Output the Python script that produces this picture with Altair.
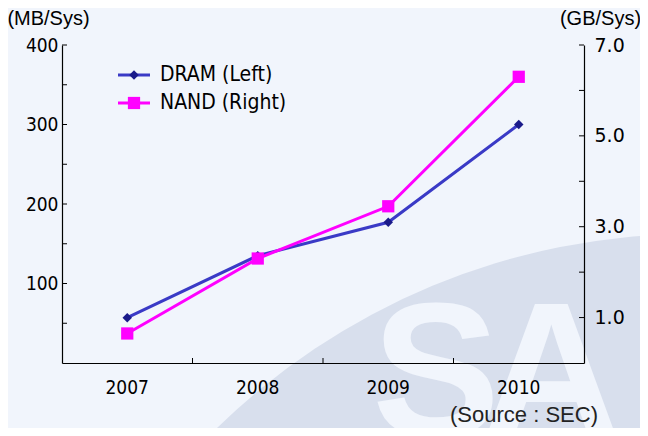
import altair as alt
import pandas as pd

years = ["2007", "2008", "2009", "2010"]
dram_mb = [57, 135, 177, 300]
nand_gb = [0.65, 2.3, 3.45, 6.3]
left_tick_vals = [50, 100, 150, 200, 250, 300, 350, 400]
left_label_vals = [100, 200, 300, 400]
right_tick_vals = [1, 2, 3, 4, 5, 6, 7]
right_label_vals = [1, 3, 5, 7]
x_tick_years = ["2008", "2009", "2010"]
series_names = ["DRAM (Left)", "NAND (Right)"]

W, H = 522, 318
NARROW = "DejaVu Sans Condensed, DejaVu Sans, sans-serif"
SANS = "Liberation Sans, Arial, sans-serif"
BG = "#F1F5FC"
WM = "#D8DFED"
DRAM_LINE = "#3A3AC6"
DRAM_MARK = "#1A1A8A"
NAND_COL = "#FF00FF"

df = pd.DataFrame({"year": years, "dram": dram_mb, "nand": nand_gb})
lt = pd.DataFrame({"v": left_tick_vals})
rt = pd.DataFrame({"v": right_tick_vals})
xt = pd.DataFrame({"year": x_tick_years})

xscale = alt.Scale(type="band", domain=years, paddingInner=0, paddingOuter=0)
yl = alt.Scale(domain=[0, 400], nice=False, zero=True)
yr = alt.Scale(domain=[0, 7], nice=False, zero=True)

xaxis = alt.Axis(title=None, ticks=False, domainColor="black", domainWidth=1.2, zindex=1,
                 labelFont=NARROW, labelFontSize=19, labelColor="black",
                 labelPadding=15, labelAngle=0)
left_axis = alt.Axis(title="(MB/Sys)", values=left_label_vals, ticks=False, grid=False,
                     domainColor="black", domainWidth=1.2, zindex=1,
                     labelFont=NARROW, labelFontSize=19, labelColor="black", labelPadding=4,
                     titleAngle=0, titleX=-14, titleY=-21, titleAlign="center",
                     titleBaseline="alphabetic", titleFont=SANS, titleFontSize=20,
                     titleFontWeight="normal", titleColor="black")
right_axis = alt.Axis(title="(GB/Sys)", orient="right", values=right_label_vals, format=".1f",
                      ticks=False, grid=False, domainColor="black", domainWidth=1.2, zindex=1,
                      labelFont="DejaVu Sans, sans-serif", labelFontSize=19, labelColor="black",
                      labelPadding=10,
                      titleAngle=0, titleX=16, titleY=-21, titleAlign="center",
                      titleBaseline="alphabetic", titleFont=SANS, titleFontSize=20,
                      titleFontWeight="normal", titleColor="black")

X = alt.X("year:O", scale=xscale, axis=xaxis)

# faint logo watermark (decorative background)
wm_df = pd.DataFrame({"k": ["wm"]})
wm_ellipse = alt.Chart(wm_df).mark_arc(color=WM, theta=0, theta2=6.2832).encode(
    x=alt.value(631), y=alt.value(870), radius=alt.value(681))
wm_s = alt.Chart(wm_df).mark_text(text="S", font=SANS, fontSize=192, fontWeight="bold",
                                  align="left", baseline="alphabetic", color=BG).encode(
    x=alt.value(310), y=alt.value(391))
wm_a = alt.Chart(wm_df).mark_text(text="A", font=SANS, fontSize=192, fontWeight="bold",
                                  align="left", baseline="alphabetic", color=BG).encode(
    x=alt.value(420), y=alt.value(391))

dram_line = alt.Chart(df).mark_line(color=DRAM_LINE, strokeWidth=3).encode(
    x=X, y=alt.Y("dram:Q", scale=yl, axis=left_axis))
dram_pts = alt.Chart(df).mark_point(shape="diamond", filled=True, color=DRAM_MARK,
                                    size=90, opacity=1).encode(
    x=X, y=alt.Y("dram:Q", scale=yl, axis=left_axis))
left_ticks = alt.Chart(lt).mark_rule(color="black", strokeWidth=1).encode(
    y=alt.Y("v:Q", scale=yl, axis=left_axis), x=alt.value(0), x2=alt.value(5))
x_ticks = alt.Chart(xt).mark_rule(color="black", strokeWidth=1).encode(
    x=alt.X("year:O", scale=xscale, axis=xaxis, bandPosition=0),
    y=alt.value(H - 5), y2=alt.value(H))

nand_line = alt.Chart(df).mark_line(color=NAND_COL, strokeWidth=3).encode(
    x=X, y=alt.Y("nand:Q", scale=yr, axis=right_axis))
nand_pts = alt.Chart(df).mark_point(shape="square", filled=True, color=NAND_COL,
                                    size=150, opacity=1).encode(
    x=X, y=alt.Y("nand:Q", scale=yr, axis=right_axis))
right_ticks = alt.Chart(rt).mark_rule(color="black", strokeWidth=1).encode(
    y=alt.Y("v:Q", scale=yr, axis=right_axis), x=alt.value(W - 5), x2=alt.value(W))

# legend
leg = []
leg_specs = [(series_names[0], DRAM_LINE, DRAM_MARK, "diamond", 90, 30),
             (series_names[1], NAND_COL, NAND_COL, "square", 150, 58)]
for name, lc, mc, shp, sz, yy in leg_specs:
    d = pd.DataFrame({"name": [name]})
    leg.append(alt.Chart(d).mark_rule(color=lc, strokeWidth=3).encode(
        x=alt.value(56), x2=alt.value(88), y=alt.value(yy)))
    leg.append(alt.Chart(d).mark_point(shape=shp, filled=True, color=mc, size=sz, opacity=1).encode(
        x=alt.value(72), y=alt.value(yy)))
    leg.append(alt.Chart(d).mark_text(align="left", baseline="middle", font=NARROW,
                                      fontSize=21, color="black").encode(
        x=alt.value(98), y=alt.value(yy), text="name:N"))

src = alt.Chart(pd.DataFrame({"t": ["(Source : SEC)"]})).mark_text(
    align="center", baseline="middle", font=SANS, fontSize=22, color="#222222").encode(
    x=alt.value(462), y=alt.value(370), text="t:N")

left_layer = alt.layer(left_ticks, x_ticks, dram_line, dram_pts)
right_layer = alt.layer(right_ticks, nand_line, nand_pts)

chart = alt.layer(wm_ellipse, wm_s, wm_a, left_layer, right_layer, *leg, src).resolve_scale(
    y="independent").properties(
    width=W, height=H, background=BG,
    autosize=alt.AutoSizeParams(type="none"),
    padding={"left": 54, "top": 37, "right": 56, "bottom": 65},
).configure_view(stroke=None)

chart.save("out.html", embed_options={"renderer": "svg", "actions": False})
